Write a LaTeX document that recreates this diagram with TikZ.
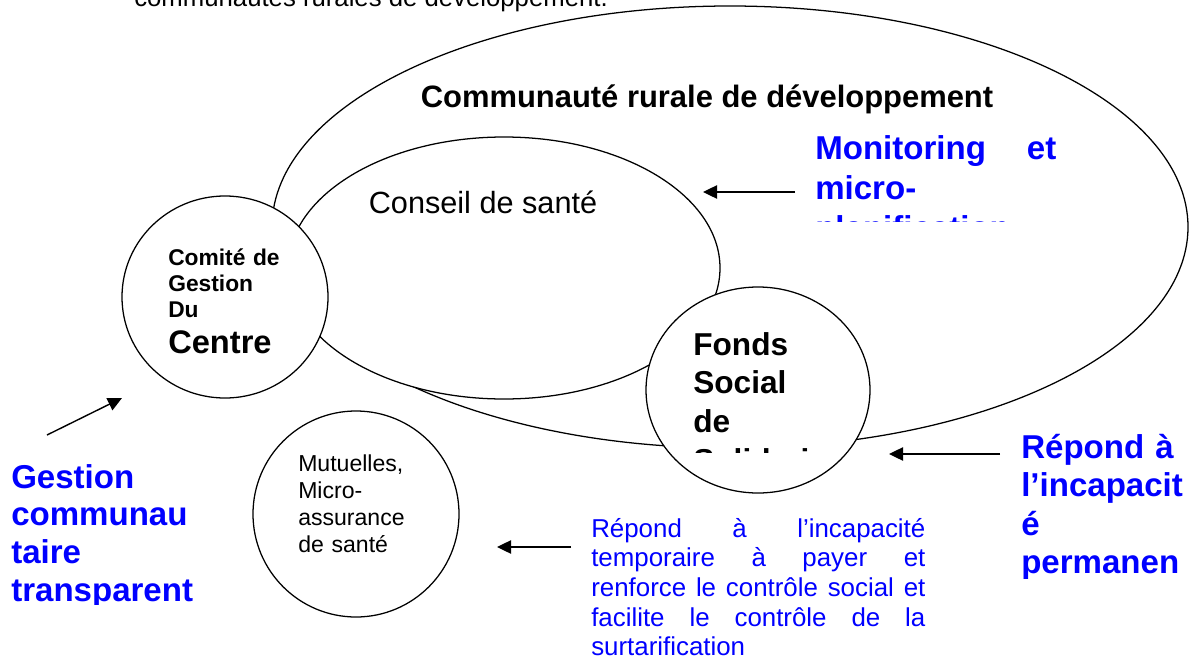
\documentclass[tikz,border=0pt]{standalone}
\usepackage{fontspec}
\setmainfont{Liberation Sans}
\usetikzlibrary{arrows.meta}
\definecolor{textblue}{RGB}{0,0,255}

\begin{document}
\begin{tikzpicture}[x=0.025cm,y=-0.025cm,
    zone/.style={draw,line width=0.9pt,fill=white},
    pointer/.style={line width=1pt,-{Triangle[length=10pt,width=9.5pt]}},
    txt/.style={inner sep=0pt,anchor=base west,align=left}]
    \useasboundingbox (0,0) rectangle (1191,664);
    %% heading line, cut by the top edge
    \begin{scope}
        \clip (0,0) rectangle (1191,664);
        \node[txt,font=\fontsize{18.3}{21}\selectfont] (heading) at (134,6) {communautés rurales de développement.};
    \end{scope}
    %% zones
    \coordinate (crd) at (730,227);
    \coordinate (conseil) at (504,268);
    \coordinate (fonds) at (758,390);
    \coordinate (comite) at (225,297);
    \coordinate (mutuelle) at (356,514);
    \draw[zone] (crd) ellipse [x radius=458, y radius=221];
    \draw[zone] (conseil) ellipse [x radius=216, y radius=131];
    \draw[zone] (fonds) ellipse [x radius=112, y radius=103];
    \draw[zone] (comite) ellipse [x radius=103, y radius=101];
    \draw[zone] (mutuelle) ellipse [x radius=103, y radius=103];
    %% texts in the zones
    \node[txt,anchor=base,font=\bfseries\fontsize{22}{26}\selectfont] (crd-text) at (707,107) {Communauté rurale de développement};
    \node[txt,anchor=base,font=\fontsize{21.8}{26}\selectfont] (conseil-text) at (483,213) {Conseil de santé};
    \node[txt,text width=92pt,font=\bfseries\fontsize{16.2}{18.5}\selectfont] (comite-text) at (168,265)
        {Comité de\\Gestion\\Du\\[7.1pt]{\fontsize{23.2}{18.5}\selectfont Centre}};
    \begin{scope}
        \clip (600,280) rectangle (880,452);
        \node[txt,text width=92pt,font=\bfseries\fontsize{22.5}{27.7}\selectfont] (fonds-text) at (693,355)
            {Fonds\\Social\\de\\Solidari};
    \end{scope}
    \node[txt,text width=85pt,font=\fontsize{16.4}{19.2}\selectfont] (mutuelle-text) at (298,471)
        {Mutuelles,\\Micro-\\assurance\\de santé};
    %% blue remarks
    \begin{scope}
        \clip (800,100) rectangle (1100,221);
        \node[txt,text width=171.4pt,text=textblue,font=\bfseries\fontsize{23.5}{28.5}\selectfont] (monitor) at (815,159)
            {Monitoring \hfill et\\micro-\\planification};
    \end{scope}
    \begin{scope}
        \clip (1000,400) rectangle (1191,578);
        \node[txt,text width=121pt,text=textblue,font=\bfseries\fontsize{23.5}{27.4}\selectfont] (permanent) at (1021,458)
            {Répond à\\l’incapacit\\é\\permanen};
    \end{scope}
    \begin{scope}
        \clip (0,440) rectangle (260,604);
        \node[txt,text width=142pt,text=textblue,font=\bfseries\fontsize{23.5}{27}\selectfont] (gestion) at (11,488)
            {Gestion\\communau\\taire\\transparent};
    \end{scope}
    \node[txt,text width=237.6pt,text=textblue,font=\fontsize{18.4}{21.1}\selectfont] (temporaire) at (591,537)
        {Répond \hfill à \hfill l’incapacité\\
         temporaire \hfill à \hfill payer \hfill et\\
         renforce \hfill le \hfill contrôle \hfill social \hfill et\\
         facilite \hfill le \hfill contrôle \hfill de \hfill la\\
         surtarification};
    %% arrows
    \coordinate (mon-tail) at (795,192);
    \coordinate (mon-head) at (703,192);
    \coordinate (perm-tail) at (1000,454);
    \coordinate (perm-head) at (889,454);
    \coordinate (mut-tail) at (571,547);
    \coordinate (mut-head) at (497,547);
    \coordinate (gest-tail) at (47,435);
    \coordinate (gest-head) at (122,398);
    \draw[pointer] (mon-tail) -- (mon-head);
    \draw[pointer] (perm-tail) -- (perm-head);
    \draw[pointer] (mut-tail) -- (mut-head);
    \draw[pointer] (gest-tail) -- (gest-head);
\end{tikzpicture}
\end{document}
